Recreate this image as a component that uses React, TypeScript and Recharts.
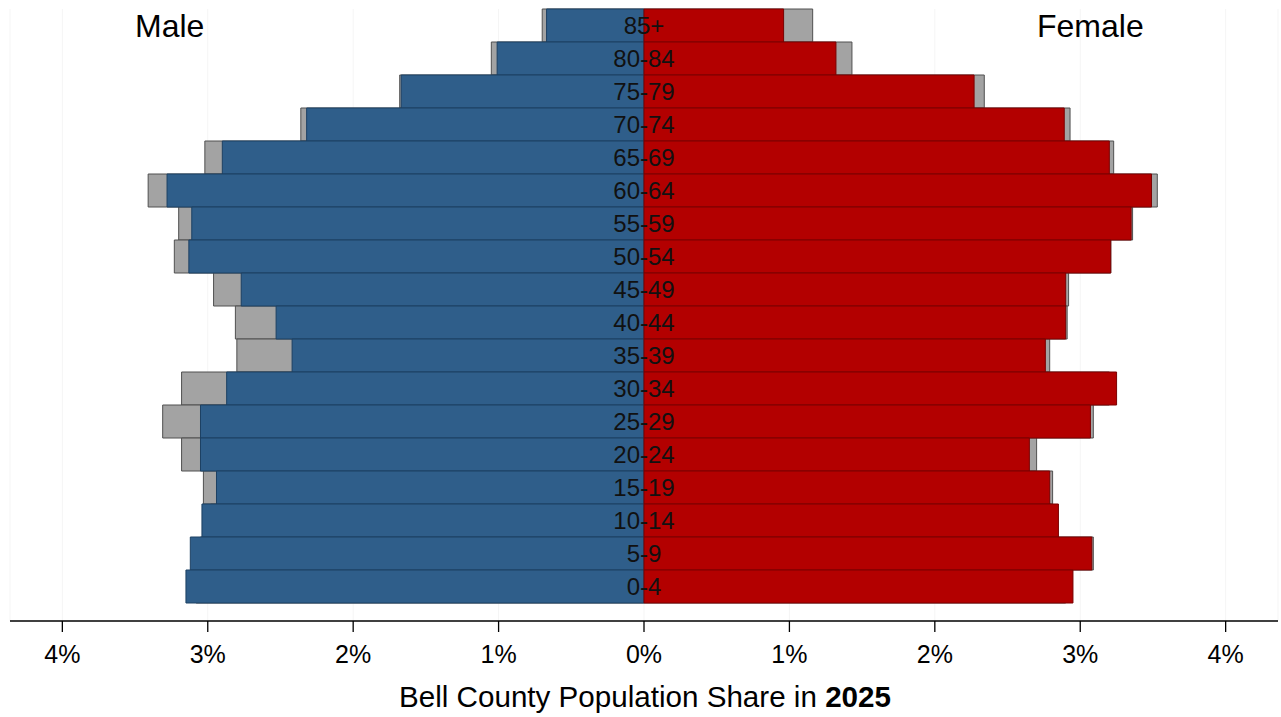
import React from 'react';
import { BarChart, Bar, XAxis, YAxis, CartesianGrid, LabelList } from 'recharts';

const ages = ['85+', '80-84', '75-79', '70-74', '65-69', '60-64', '55-59', '50-54', '45-49', '40-44', '35-39', '30-34', '25-29', '20-24', '15-19', '10-14', '5-9', '0-4'];
const male2025 = [0.67, 1.01, 1.67, 2.32, 2.90, 3.28, 3.11, 3.13, 2.77, 2.53, 2.42, 2.87, 3.05, 3.05, 2.94, 3.04, 3.12, 3.15];
const maleCompare = [0.70, 1.05, 1.68, 2.36, 3.02, 3.41, 3.20, 3.23, 2.96, 2.81, 2.80, 3.18, 3.31, 3.18, 3.03, 2.98, 3.05, 3.08];
const female2025 = [0.96, 1.32, 2.27, 2.89, 3.20, 3.49, 3.35, 3.21, 2.90, 2.90, 2.76, 3.25, 3.07, 2.65, 2.79, 2.85, 3.08, 2.95];
const femaleCompare = [1.16, 1.43, 2.34, 2.93, 3.23, 3.53, 3.36, 3.21, 2.92, 2.91, 2.79, 3.20, 3.09, 2.70, 2.81, 2.80, 3.09, 2.90];
const xTicks = [-4, -3, -2, -1, 0, 1, 2, 3, 4];

const data = ages.map((age, i) => ({
  age,
  mG: -maleCompare[i],
  fG: femaleCompare[i],
  mB: -male2025[i],
  fR: female2025[i],
}));

const FONT = '"Liberation Sans", Arial, Helvetica, sans-serif';

const AgeLabel = (props: any) => {
  const { x, y, height, value } = props;
  return (
    <text
      x={Number(x)}
      y={Number(y) + Number(height) / 2}
      textAnchor="middle"
      dominantBaseline="central"
      fontSize={24}
      fontFamily={FONT}
      fill="#111"
    >
      {value}
    </text>
  );
};

export default function App() {
  return (
    <div style={{ position: 'fixed', left: 0, top: 0, width: 1281, height: 717, overflow: 'hidden', background: '#fff' }}>
      <BarChart
        width={1281}
        height={717}
        data={data}
        layout="vertical"
        stackOffset="sign"
        barCategoryGap={0}
        barGap={0}
        margin={{ top: 9, right: 3, bottom: 0, left: 10 }}
      >
        <CartesianGrid horizontal={false} vertical={true} stroke="#f5f5f5" />
        <XAxis
          type="number"
          domain={[-4.36, 4.36]}
          ticks={xTicks}
          allowDataOverflow
          tickFormatter={(v: number) => `${Math.abs(v)}%`}
          tick={{ fill: '#000', fontSize: 25, fontFamily: FONT }}
          tickLine={{ stroke: '#000', strokeWidth: 1.3 }}
          axisLine={{ stroke: '#000', strokeWidth: 1.5 }}
          tickSize={11}
          tickMargin={13}
          height={96}
        />
        <YAxis yAxisId="bg" type="category" dataKey="age" hide padding={{ top: 0, bottom: 18 }} />
        <YAxis yAxisId="fg" type="category" dataKey="age" hide padding={{ top: 0, bottom: 18 }} />
        <Bar yAxisId="bg" dataKey="mG" stackId="g" fill="#a3a3a3" stroke="#505050" strokeWidth={1} isAnimationActive={false} />
        <Bar yAxisId="bg" dataKey="fG" stackId="g" fill="#a3a3a3" stroke="#505050" strokeWidth={1} isAnimationActive={false} />
        <Bar yAxisId="fg" dataKey="mB" stackId="c" fill="#2f5e8a" stroke="#1d4063" strokeWidth={1} isAnimationActive={false} />
        <Bar yAxisId="fg" dataKey="fR" stackId="c" fill="#b30000" stroke="#7a0000" strokeWidth={1} isAnimationActive={false}>
          <LabelList dataKey="age" content={AgeLabel} />
        </Bar>
      </BarChart>
      <div style={{ position: 'absolute', left: 135, top: 10, fontSize: 32, lineHeight: '32px', fontFamily: FONT, color: '#000', whiteSpace: 'nowrap' }}>
        Male
      </div>
      <div style={{ position: 'absolute', left: 1037, top: 10, fontSize: 32, lineHeight: '32px', fontFamily: FONT, color: '#000', whiteSpace: 'nowrap' }}>
        Female
      </div>
      <div style={{ position: 'absolute', left: 0, width: 1290, textAlign: 'center', top: 682, fontSize: 29.6, lineHeight: '29px', fontFamily: FONT, color: '#000', whiteSpace: 'nowrap' }}>
        Bell County Population Share in <b>2025</b>
      </div>
    </div>
  );
}
